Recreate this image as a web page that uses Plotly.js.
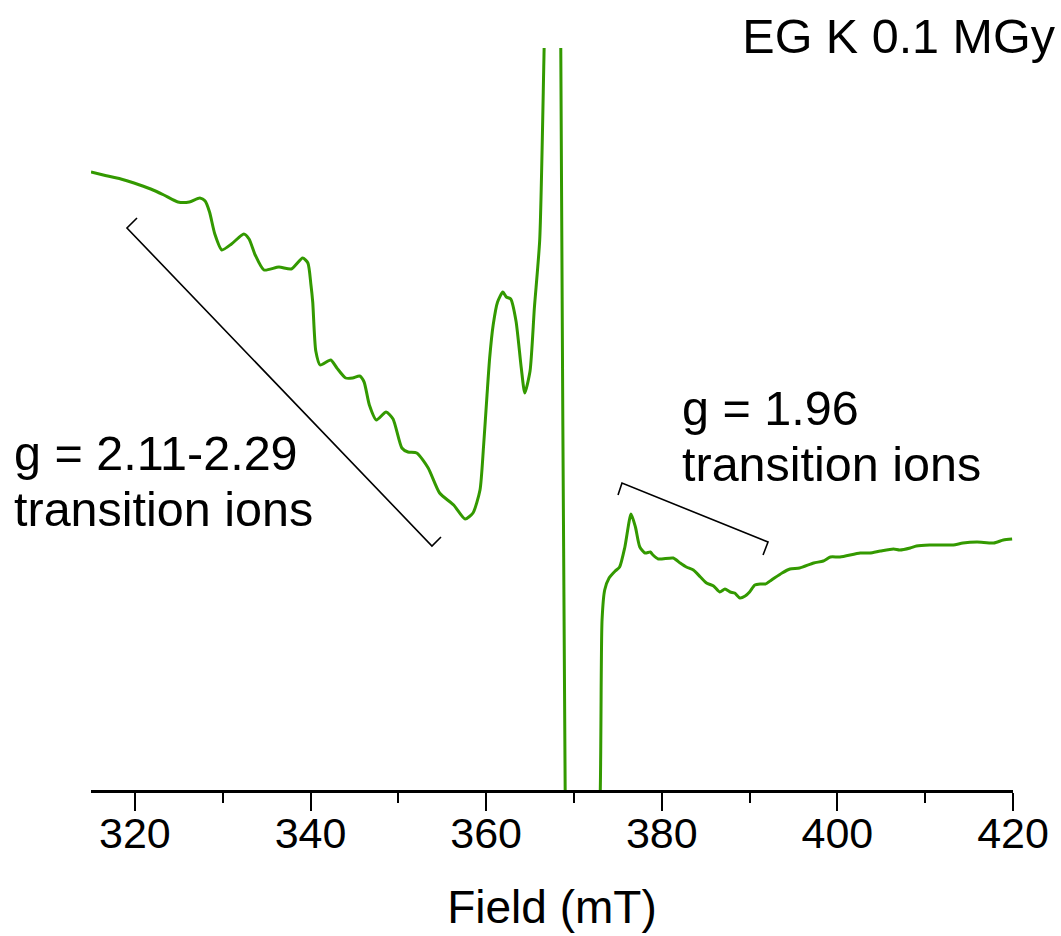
<!DOCTYPE html>
<html>
<head>
<meta charset="utf-8">
<script src="https://cdn.plot.ly/plotly-3.0.1.min.js"></script>
<style>html,body{margin:0;padding:0;background:#fff;}#chart{width:1061px;height:936px;}</style>
</head>
<body>
<div id="chart"></div>
<script>
// Magnetic field (mT)
const field = [315.0,316.4,318.4,319.9,321.8,323.3,324.9,326.2,327.4,328.0,328.5,329.1,329.9,331.0,332.4,333.0,333.7,334.7,336.4,337.8,339.1,339.7,340.05,340.25,340.6,341.1,342.3,343.0,344.0,344.8,345.6,346.1,346.7,347.5,348.6,349.4,350.4,351.1,352.1,353.4,354.7,356.3,357.6,358.5,359.3,359.7,360.1,360.4,360.8,361.3,361.9,362.3,362.8,363.4,364.0,364.4,365.0,365.5,366.1,366.6,367.5,368.5,369.0,371.0,373.0,373.2,373.5,374.0,374.7,375.2,375.8,376.5,377.0,377.5,378.1,378.7,379.0,379.6,381.3,382.1,382.8,383.6,384.4,385.1,385.9,386.6,387.2,387.8,388.3,388.9,389.5,390.0,390.6,391.2,391.8,392.5,393.7,394.6,395.7,397.3,398.4,399.2,400.3,402.6,403.7,404.9,406.4,407.1,408.3,409.0,410.5,411.7,413.2,414.3,415.9,417.8,418.9,419.9];
// EPR signal intensity (arbitrary units)
const signal = [428,425,421,417,411,405,398,398,402,399,388,366,350,356,366,361,345,330,333,331,342,337,315,298,249,235,240,232,222,222,224,218,195,180,188,181,152,148,147,132,107,95,81,87,110,153,205,242,275,298,308,303,301,279,232,207,229,293,360,550,950,552,-190,-900,-190,-20,10,22,29,33,53,86,73,53,47,48,45,41,42,37,33,30,23,17,14,8,11,8,7,2,4,8,15,16,16,20,27,31,32,37,39,43,43,47,47,49,51,50,52,54,55,55,55,57,58,57,60,61];
// Axis ticks
const majorTicks = [320,340,360,380,400,420];
const tickLabels = ["320","340","360","380","400","420"];
const chartTitle = "EG K 0.1 MGy";
const xTitle = "Field (mT)";
const leftNote = ["g = 2.11-2.29","transition ions"];
const rightNote = ["g = 1.96","transition ions"];

const FONT = "Liberation Sans, Arial, sans-serif";

const trace = {
  x: field, y: signal, type: "scatter", mode: "lines",
  line: {color: "#339900", width: 3, shape: "spline", smoothing: 0.6},
  hoverinfo: "skip", showlegend: false
};

function P(px, py){ return [(px-91)/922, (790-py)/742]; }
function path(pts){ return pts.map((p,i)=>{const q=P(p[0],p[1]);return (i?"L":"M")+q[0].toFixed(4)+","+q[1].toFixed(4);}).join(" "); }

const layout = {
  width: 1061, height: 936,
  paper_bgcolor: "#fff", plot_bgcolor: "#fff",
  margin: {l: 91, r: 48, t: 48, b: 146},
  font: {family: FONT, color: "#000"},
  showlegend: false,
  title: {text: chartTitle, font: {family: FONT, size: 48.5, color: "#000"},
          xref: "container", x: 0.9943, xanchor: "right",
          yref: "container", y: 1 - 36/936, yanchor: "middle"},
  xaxis: {
    range: [315, 420], showgrid: false, zeroline: false,
    showline: true, linecolor: "#000", linewidth: 2.5,
    tickmode: "array", tickvals: majorTicks, ticktext: tickLabels,
    ticks: "outside", ticklen: 18, tickwidth: 2, tickcolor: "#000",
    ticklabelstandoff: -14,
    tickfont: {family: FONT, size: 43, color: "#000"},
    minor: {dtick: 10, tick0: 310, ticks: "outside", ticklen: 10, tickwidth: 2, tickcolor: "#000", showgrid: false},
    title: {text: xTitle, font: {family: FONT, size: 46, color: "#000"}, standoff: 35},
    automargin: false
  },
  yaxis: {
    range: [-190, 552], visible: false, showgrid: false, zeroline: false, fixedrange: true
  },
  shapes: [
    {type: "path", xref: "paper", yref: "paper", path: path([[137,218],[127,228],[432,546],[441,537]]), line: {color: "#000", width: 1.6}},
    {type: "path", xref: "paper", yref: "paper", path: path([[618,495],[622,483],[768,542],[763,555]]), line: {color: "#000", width: 1.6}}
  ],
  annotations: [
    {text: leftNote[0], xref: "paper", yref: "paper", x: P(12,0)[0], y: P(0,453)[1], xanchor: "left", yanchor: "middle", showarrow: false, font: {family: FONT, size: 48.5, color: "#000"}},
    {text: leftNote[1], xref: "paper", yref: "paper", x: P(12,0)[0], y: P(0,509)[1], xanchor: "left", yanchor: "middle", showarrow: false, font: {family: FONT, size: 48.5, color: "#000"}},
    {text: rightNote[0], xref: "paper", yref: "paper", x: P(680,0)[0], y: P(0,408)[1], xanchor: "left", yanchor: "middle", showarrow: false, font: {family: FONT, size: 48.5, color: "#000"}},
    {text: rightNote[1], xref: "paper", yref: "paper", x: P(680,0)[0], y: P(0,464)[1], xanchor: "left", yanchor: "middle", showarrow: false, font: {family: FONT, size: 48.5, color: "#000"}}
  ]
};

Plotly.newPlot("chart", [trace], layout, {displayModeBar: false, staticPlot: true});
</script>
</body>
</html>
